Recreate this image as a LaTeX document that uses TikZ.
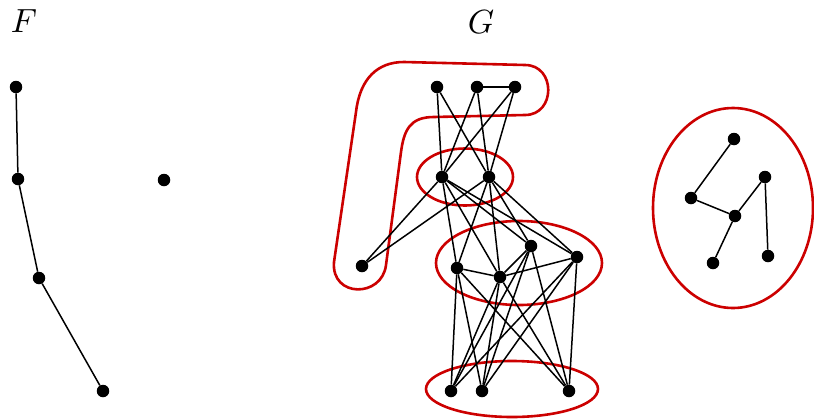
\documentclass[tikz,border=0pt]{standalone}
\begin{document}
\begin{tikzpicture}[x=1pt,y=-1pt,
  vtx/.style={circle,fill=black,inner sep=0pt,minimum size=12.5pt},
  edge/.style={line width=1.5pt},
  hyper/.style={draw=hred,line width=2.6pt},
  lbl/.style={inner sep=0pt,scale=3.35}]
\definecolor{hred}{RGB}{204,0,0}
\useasboundingbox (0,0) rectangle (814,418);
% labels
\node[lbl] (labF) at (24,21) {$F$};
\node[lbl] (labG) at (481,22) {$G$};
% F
\node[vtx] (f1) at (16,87) {};
\node[vtx] (f2) at (18,179) {};
\node[vtx] (f3) at (39,278) {};
\node[vtx] (f4) at (103,391) {};
\node[vtx] (fi) at (164,180) {};
\draw[edge] (f1) -- (f2) -- (f3) -- (f4);
% G hyperedges
\draw[hyper] (465,177) ellipse [x radius=48, y radius=28.5];
\draw[hyper] (519,263) ellipse [x radius=83, y radius=42];
\draw[hyper] (512,389) ellipse [x radius=86, y radius=28];
\draw[hyper] (733,208) ellipse [x radius=80, y radius=100];
\draw[hyper] (404,62) -- (525,65)
  .. controls (556,65) and (556,115) .. (525,115)
  -- (434,117)
  .. controls (410,117) and (404,130) .. (401,152)
  -- (386,265)
  .. controls (382,298) and (331,298) .. (334,262)
  -- (356,112)
  .. controls (360,78) and (378,62) .. (404,62) -- cycle;
% G vertices
\node[vtx] (t1) at (437,87) {};
\node[vtx] (t2) at (477,87) {};
\node[vtx] (t3) at (515,87) {};
\node[vtx] (m1) at (442,177) {};
\node[vtx] (m2) at (489,177) {};
\node[vtx] (L) at (362,266) {};
\node[vtx] (c1) at (457,268) {};
\node[vtx] (c2) at (500,277) {};
\node[vtx] (c3) at (531,246) {};
\node[vtx] (c4) at (577,257) {};
\node[vtx] (b1) at (451,391) {};
\node[vtx] (b2) at (482,391) {};
\node[vtx] (b3) at (569,391) {};
% G edges
\draw[edge] (t2) -- (t3);
\foreach \a in {t1,t2,t3} {\foreach \b in {m1,m2} {\draw[edge] (\a) -- (\b);}}
\draw[edge] (L) -- (m1);
\draw[edge] (L) -- (m2);
\foreach \a in {m1,m2} {\foreach \b in {c1,c2,c3,c4} {\draw[edge] (\a) -- (\b);}}
\draw[edge] (c1) -- (c2);
\draw[edge] (c2) -- (c4);
\draw[edge] (c2) -- (c3);
\foreach \a in {c1,c2,c3,c4} {\foreach \b in {b1,b2,b3} {\draw[edge] (\a) -- (\b);}}
% right component
\node[vtx] (r1) at (734,139) {};
\node[vtx] (r2) at (691,198) {};
\node[vtx] (r3) at (735,216) {};
\node[vtx] (r4) at (765,177) {};
\node[vtx] (r5) at (713,263) {};
\node[vtx] (r6) at (768,256) {};
\draw[edge] (r1) -- (r2) -- (r3) -- (r4) -- (r6);
\draw[edge] (r3) -- (r5);
\end{tikzpicture}
\end{document}
